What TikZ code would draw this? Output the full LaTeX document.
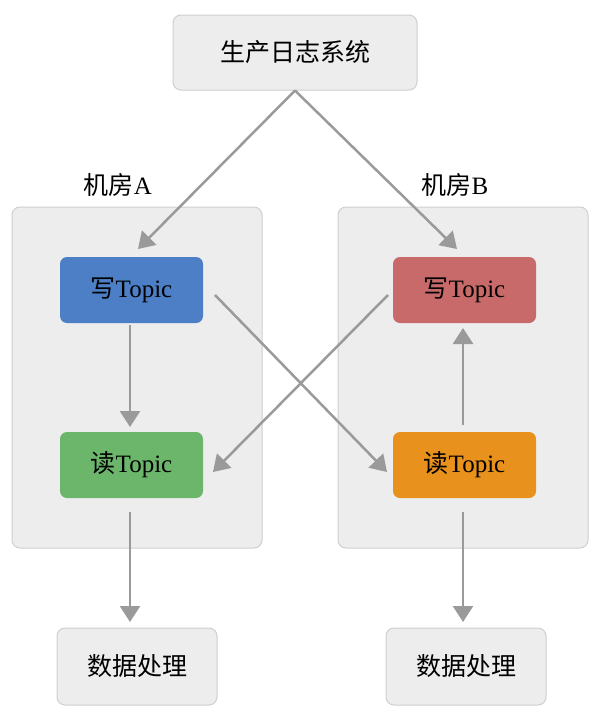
\documentclass[tikz,border=0pt]{standalone}
\usepackage{fontspec}
\usetikzlibrary{arrows.meta}
\setmainfont{Liberation Serif}
\newfontfamily\cjk{Noto Sans CJK SC}
\definecolor{boxfill}{HTML}{EDEDED}
\definecolor{boxline}{HTML}{CFCFCF}
\definecolor{arr}{HTML}{9A9A9A}
\definecolor{cblue}{HTML}{4C7FC6}
\definecolor{cred}{HTML}{C96A6A}
\definecolor{cgreen}{HTML}{6CB66C}
\definecolor{corange}{HTML}{E8911C}
\begin{document}
\begin{tikzpicture}[x=1pt,y=-1pt,
  graybox/.style={draw=boxline,fill=boxfill,rounded corners=8pt,line width=1pt},
  topicbox/.style={rounded corners=7pt,minimum width=143pt,minimum height=66pt,inner sep=0pt,font=\fontsize{25}{29}\selectfont},
  txt/.style={font=\fontsize{25}{29}\selectfont},
  conn/.style={draw=arr,line width=2.5pt,-{Triangle[length=16pt,width=20pt]}}]
\useasboundingbox (0,0) rectangle (600,715);
\node[graybox,minimum width=244pt,minimum height=75pt,txt] (top) at (295,52.5) {\cjk 生产日志系统};
\node[graybox,minimum width=250pt,minimum height=341pt] (roomA) at (137,377.5) {};
\node[graybox,minimum width=250pt,minimum height=341pt] (roomB) at (463,377.5) {};
\node[txt] (labA) at (118,185) {\cjk 机房\rmfamily A};
\node[txt] (labB) at (455,185) {\cjk 机房\rmfamily B};
\node[topicbox,fill=cblue] (wA) at (131.5,290) {{\cjk 写}Topic};
\node[topicbox,fill=cred] (wB) at (464.5,290) {{\cjk 写}Topic};
\node[topicbox,fill=cgreen] (rA) at (131.5,465) {{\cjk 读}Topic};
\node[topicbox,fill=corange] (rB) at (464.5,465) {{\cjk 读}Topic};
\node[graybox,minimum width=160pt,minimum height=77pt,txt] (pA) at (137,666.5) {\cjk 数据处理};
\node[graybox,minimum width=160pt,minimum height=77pt,txt] (pB) at (466,666.5) {\cjk 数据处理};
\coordinate (tA) at (138,249);
\coordinate (tB) at (457,249);
\draw[conn] (top.south) -- (tA);
\draw[conn] (top.south) -- (tB);
\draw[conn] (130,325) -- (130,427);
\draw[conn] (215,295) -- (387,472);
\draw[conn] (388,295) -- (213,472);
\draw[conn] (463,425) -- (463,328);
\draw[conn] (130,512) -- (130,622);
\draw[conn] (463,512) -- (463,622);
\end{tikzpicture}
\end{document}
